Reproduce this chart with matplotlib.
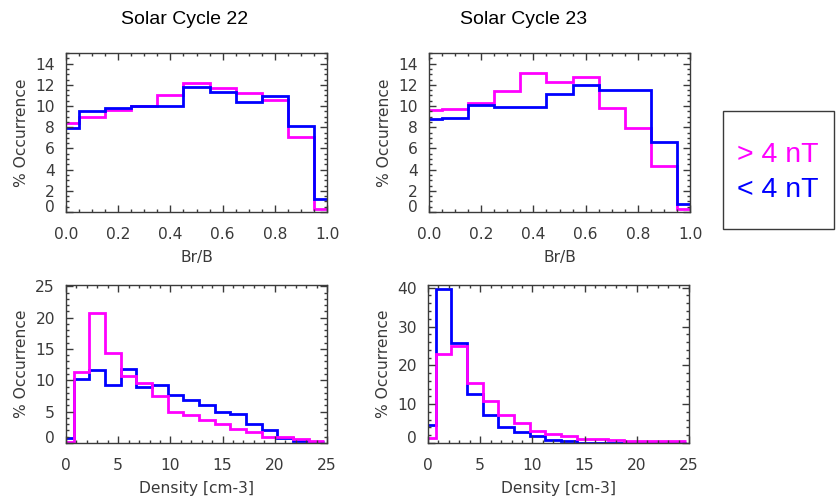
import numpy as np
import matplotlib
matplotlib.use("Agg")
import matplotlib.pyplot as plt
from matplotlib.ticker import MultipleLocator, FormatStrFormatter
from matplotlib.patches import Rectangle
from matplotlib.transforms import ScaledTranslation

# ---------------- data ----------------
br_centers = [0.0, 0.1, 0.2, 0.3, 0.4, 0.5, 0.6, 0.7, 0.8, 0.9, 1.0]
dens_centers = [0, 1.5, 3, 4.5, 6, 7.5, 9, 10.5, 12, 13.5, 15, 16.5, 18, 19.5, 21, 22.5, 24]

sc22_br_gt4 = [8.4, 9.0, 9.6, 10.0, 11.0, 12.2, 11.7, 11.2, 10.6, 7.1, 0.3]
sc22_br_lt4 = [7.9, 9.5, 9.8, 10.0, 10.0, 11.8, 11.3, 10.4, 10.9, 8.1, 1.2]
sc23_br_gt4 = [9.6, 9.7, 10.3, 11.4, 13.1, 12.3, 12.7, 9.8, 7.9, 4.3, 0.3]
sc23_br_lt4 = [8.8, 8.9, 10.1, 9.9, 9.9, 11.1, 12.0, 11.5, 11.5, 6.6, 0.8]

sc22_dens_gt4 = [0.1, 11.3, 20.8, 14.3, 10.7, 9.5, 7.5, 5.0, 4.4, 3.6, 3.1, 2.3, 1.7, 1.0, 1.0, 0.6, 0.3]
sc22_dens_lt4 = [0.75, 10.2, 11.7, 9.3, 11.8, 8.9, 9.3, 7.6, 6.8, 6.1, 5.0, 4.6, 3.0, 2.1, 0.8, 0.35, 0.2]
sc23_dens_gt4 = [1.3, 22.9, 25.0, 15.5, 10.9, 7.2, 5.2, 3.2, 2.2, 1.75, 1.05, 1.05, 0.7, 0.45, 0.45, 0.4, 0.4]
sc23_dens_lt4 = [4.6, 39.6, 25.8, 12.5, 7.2, 4.1, 2.9, 1.7, 0.9, 0.4, 0.1, 0.1, 0.1, 0.1, 0.1, 0.05, 0.05]

titles = ["Solar Cycle 22", "Solar Cycle 23"]
legend_labels = ["> 4 nT", "< 4 nT"]
c_gt = "#ff00ff"
c_lt = "#0000ff"

# ---------------- figure ----------------
W, H = 836, 501
fig = plt.figure(figsize=(W / 100, H / 100), dpi=100)
gray = "#3a3a3a"
tfont = "DejaVu Sans"


def add_ax(l, t, r, b):
    return fig.add_axes([l / W, 1 - b / H, (r - l) / W, (b - t) / H])


def edges_of(centers):
    c = np.asarray(centers, dtype=float)
    w = c[1] - c[0]
    return np.append(c - w / 2, c[-1] + w / 2)


def style(ax, xlim, ylim, xmaj, xmin, ymaj, ymin, xfmt, xlabel, xlab_y):
    ax.set_xlim(*xlim)
    ax.set_ylim(*ylim)
    ax.xaxis.set_major_locator(MultipleLocator(xmaj))
    ax.xaxis.set_minor_locator(MultipleLocator(xmin))
    ax.yaxis.set_major_locator(MultipleLocator(ymaj))
    ax.yaxis.set_minor_locator(MultipleLocator(ymin))
    ax.xaxis.set_major_formatter(FormatStrFormatter(xfmt))
    ax.tick_params(which="both", direction="in", top=True, right=True,
                   color=gray, width=1, labelcolor=gray, labelsize=11.2,
                   labelfontfamily=tfont)
    ax.tick_params(which="major", length=5)
    ax.tick_params(which="minor", length=2.5)
    ax.tick_params(axis="x", pad=11)
    ax.tick_params(axis="y", pad=8)
    for s in ax.spines.values():
        s.set_color(gray)
        s.set_linewidth(1)
    ax.set_xlabel(xlabel, fontsize=11.2, color=gray, family=tfont)
    ax.set_ylabel("% Occurrence", fontsize=11.2, color=gray, family=tfont)
    ax.yaxis.set_label_coords(-0.14, 0.5)
    ax.xaxis.set_label_coords(0.5, xlab_y)


# top row (Br/B)
ax1 = add_ax(66, 53, 327, 212)
ax2 = add_ax(429, 53, 690, 212)
for ax, gt, lt in [(ax1, sc22_br_gt4, sc22_br_lt4), (ax2, sc23_br_gt4, sc23_br_lt4)]:
    e = edges_of(br_centers)
    ax.stairs(gt, e, baseline=None, color=c_gt, lw=2)
    ax.stairs(lt, e, baseline=None, color=c_lt, lw=2)
    style(ax, (0, 1), (0, 15), 0.2, 0.05, 2, 0.5, "%.1f", "Br/B", -0.24)

# bottom row (Density)
ax3 = add_ax(66, 285, 327, 443)
ax4 = add_ax(428, 285, 689, 443)
for ax, gt, lt, ymax, ymaj, ymin in [(ax3, sc22_dens_gt4, sc22_dens_lt4, 25.2, 5, 1),
                                     (ax4, sc23_dens_gt4, sc23_dens_lt4, 40.7, 10, 2)]:
    e = edges_of(dens_centers)
    ax.stairs(lt, e, baseline=None, color=c_lt, lw=2)
    ax.stairs(gt, e, baseline=None, color=c_gt, lw=2)
    style(ax, (0, 25), (0, ymax), 5, 1, ymaj, ymin, "%d", "Density [cm-3]", -0.24)

# titles
fig.text(185 / W, 1 - 20 / H, titles[0], ha="center", va="center",
         fontsize=14, family="Liberation Sans", color="black")
fig.text(524 / W, 1 - 20 / H, titles[1], ha="center", va="center",
         fontsize=14, family="Liberation Sans", color="black")

# legend box
fig.patches.append(Rectangle((723 / W, 1 - 229 / H), (834 - 723) / W, (229 - 111) / H,
                             transform=fig.transFigure, fill=False,
                             edgecolor=gray, linewidth=1))
fig.text(737 / W, 1 - 155 / H, legend_labels[0], color=c_gt, fontsize=20.5,
         family="Liberation Sans", ha="left", va="center")
fig.text(737 / W, 1 - 190 / H, legend_labels[1], color=c_lt, fontsize=20.5,
         family="Liberation Sans", ha="left", va="center")

# the bottom "0" y label sits a little higher, as in the reference
fig.canvas.draw()
for ax in (ax1, ax2, ax3, ax4):
    for t in ax.yaxis.get_major_ticks():
        if abs(t.get_loc()) < 1e-9:
            lab = t.label1
            lab.set_transform(lab.get_transform()
                              + ScaledTranslation(0, 4 / 72, fig.dpi_scale_trans))

fig.savefig("out.png", dpi=100)
